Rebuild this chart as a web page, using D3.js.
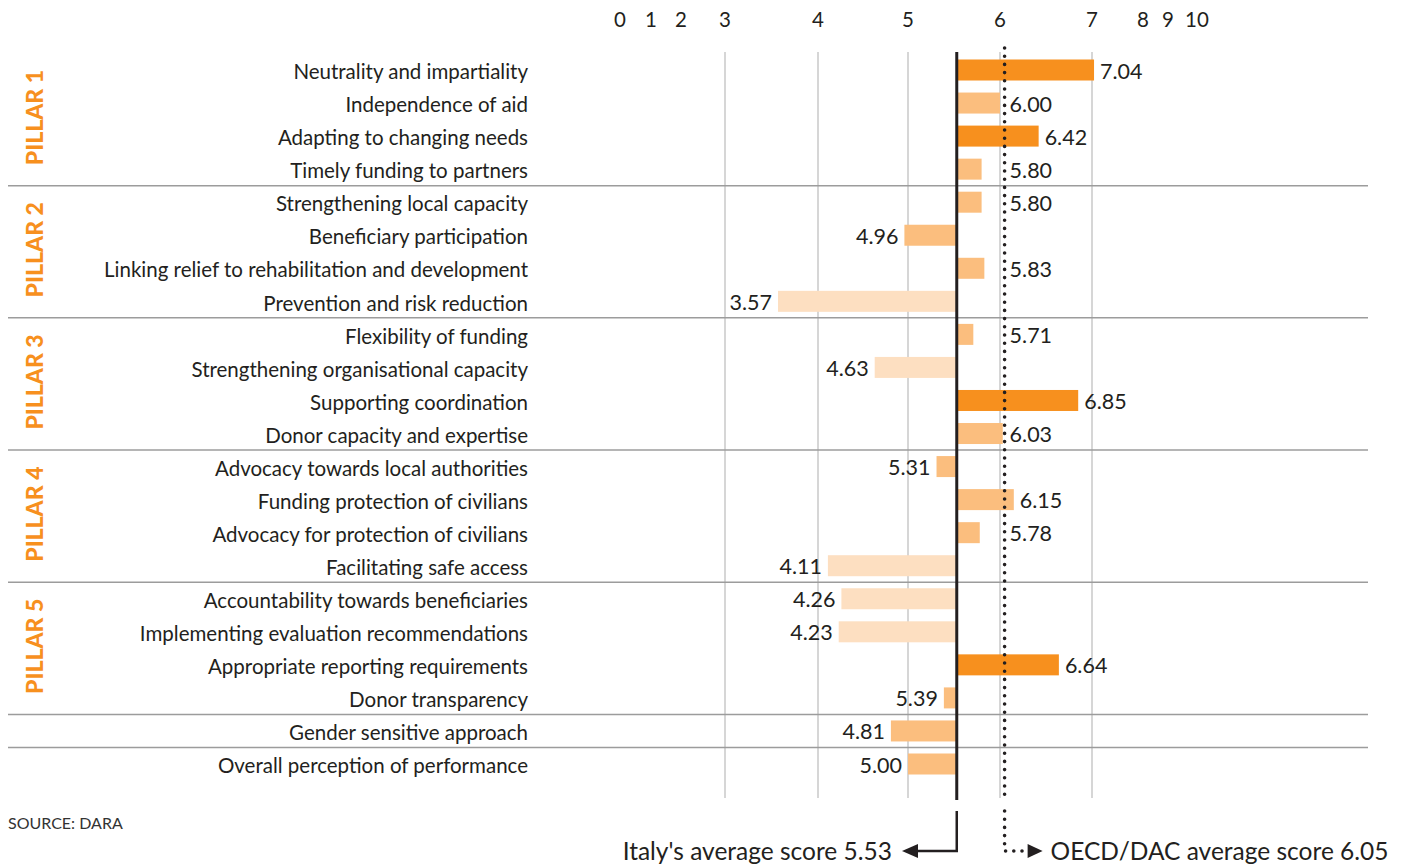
<!DOCTYPE html>
<html>
<head>
<meta charset="utf-8">
<script src="https://cdn.jsdelivr.net/npm/d3@7"></script>
<style>
	body { margin: 0; background: #fff; }
	svg text { font-family: Lato, "Noto Sans", sans-serif; fill: #231f20; }
</style>
</head>
<body>
<div id="chart"></div>
<script>
// Italy - scores by indicator vs averages

var categories = [
	"Neutrality and impartiality",
	"Independence of aid",
	"Adapting to changing needs",
	"Timely funding to partners",
	"Strengthening local capacity",
	"Beneficiary participation",
	"Linking relief to rehabilitation and development",
	"Prevention and risk reduction",
	"Flexibility of funding",
	"Strengthening organisational capacity",
	"Supporting coordination",
	"Donor capacity and expertise",
	"Advocacy towards local authorities",
	"Funding protection of civilians",
	"Advocacy for protection of civilians",
	"Facilitating safe access",
	"Accountability towards beneficiaries",
	"Implementing evaluation recommendations",
	"Appropriate reporting requirements",
	"Donor transparency",
	"Gender sensitive approach",
	"Overall perception of performance"
];

var scores = [7.04, 6.00, 6.42, 5.80, 5.80, 4.96, 5.83, 3.57, 5.71, 4.63, 6.85,
	6.03, 5.31, 6.15, 5.78, 4.11, 4.26, 4.23, 6.64, 5.39, 4.81, 5.00];

var pillars = ["PILLAR 1", "PILLAR 2", "PILLAR 3", "PILLAR 4", "PILLAR 5"];
var pillarSizes = [4, 4, 4, 4, 4];

var tickValues = [0, 1, 2, 3, 4, 5, 6, 7, 8, 9, 10];
var gridValues = [3, 4, 5, 6, 7];

var italyAvg = 5.53;
var oecdAvg = 6.05;

// Set up canvas
var width = 1408;
var height = 864;

var svg = d3.select("#chart")
	.append("svg")
		.attr("width", width)
		.attr("height", height);

// the axis is stretched in the middle, squeezed at both ends
var x = d3.scaleLinear()
	.domain(tickValues)
	.range([620, 651, 681, 725, 818, 908, 1000, 1092, 1143, 1168, 1197]);

var y = d3.scalePoint()
	.domain(categories)
	.range([70, 764]);

var barH = 21;
var gridTop = 52, gridBottom = 798;

function barColor(v) {
	if (v > 6.3) return "#f7901e";
	if (v < 4.7) return "#fddfc1";
	return "#fbbe7e";
}

// top tick labels
svg.append("g")
	.selectAll("text")
	.data(tickValues)
	.enter().append("text")
		.attr("x", function(d) { return x(d); })
		.attr("y", 20)
		.attr("dy", "0.35em")
		.attr("text-anchor", "middle")
		.attr("font-size", 20.5)
		.text(function(d) { return d; });

// vertical grid
svg.append("g")
	.selectAll("line")
	.data(gridValues)
	.enter().append("line")
		.attr("x1", function(d) { return x(d); })
		.attr("x2", function(d) { return x(d); })
		.attr("y1", gridTop)
		.attr("y2", gridBottom)
		.attr("stroke", "#c8c8c8")
		.attr("stroke-width", 1.5);

// horizontal separators between groups
var sepAfter = [];
var acc = 0;
pillarSizes.forEach(function(n) { acc += n; sepAfter.push(acc - 1); });
sepAfter.push(acc);

svg.append("g")
	.selectAll("line")
	.data(sepAfter)
	.enter().append("line")
		.attr("x1", 8)
		.attr("x2", 1368)
		.attr("y1", function(i) { return (y(categories[i]) + y(categories[i + 1])) / 2; })
		.attr("y2", function(i) { return (y(categories[i]) + y(categories[i + 1])) / 2; })
		.attr("stroke", "#9c9c9c")
		.attr("stroke-width", 1.5);

// pillar labels
var start = 0;
var pillarData = pillars.map(function(p, k) {
	var first = start, last = start + pillarSizes[k] - 1;
	start += pillarSizes[k];
	return { name: p, mid: (y(categories[first]) + y(categories[last])) / 2 };
});

svg.append("g")
	.selectAll("text")
	.data(pillarData)
	.enter().append("text")
		.attr("transform", function(d) { return "translate(35," + (d.mid - 2) + ") rotate(-90)"; })
		.attr("dy", "0.35em")
		.attr("text-anchor", "middle")
		.attr("font-size", 23)
		.attr("font-weight", 900)
		.style("fill", "#f7901e")
		.text(function(d) { return d.name; });

// category labels
svg.append("g")
	.selectAll("text")
	.data(categories)
	.enter().append("text")
		.attr("x", 528)
		.attr("y", function(d) { return y(d) + 2; })
		.attr("dy", "0.35em")
		.attr("text-anchor", "end")
		.attr("font-size", 20.5)
		.text(function(d) { return d; });

// bars from Italy's average
var rows = categories.map(function(c, i) { return { cat: c, v: scores[i] }; });
var x0 = x(italyAvg);

svg.append("g")
	.selectAll("rect")
	.data(rows)
	.enter().append("rect")
		.attr("x", function(d) { return d.v >= italyAvg ? x0 : x(d.v); })
		.attr("y", function(d) { return y(d.cat) - barH / 2; })
		.attr("width", function(d) { return Math.abs(x(d.v) - x0); })
		.attr("height", barH)
		.attr("fill", function(d) { return barColor(d.v); });

// value labels
var xo = x(oecdAvg);

svg.append("g")
	.selectAll("text")
	.data(rows)
	.enter().append("text")
		.attr("x", function(d) {
			if (d.v < italyAvg) return x(d.v) - 6;
			if (x(d.v) < xo + 2) return xo + 5;
			return x(d.v) + 6;
		})
		.attr("y", function(d) { return y(d.cat) + 1; })
		.attr("dy", "0.35em")
		.attr("text-anchor", function(d) { return d.v < italyAvg ? "end" : "start"; })
		.attr("font-size", 21.5)
		.text(function(d) { return d.v.toFixed(2); });

// Italy average line + pointer
svg.append("line")
	.attr("x1", x0).attr("x2", x0)
	.attr("y1", gridTop).attr("y2", gridBottom + 2)
	.attr("stroke", "#231f20")
	.attr("stroke-width", 3);

svg.append("path")
	.attr("d", "M" + x0 + ",811 V851 H912")
	.attr("fill", "none")
	.attr("stroke", "#231f20")
	.attr("stroke-width", 2.5);

svg.append("path")
	.attr("d", "M902,851 L918,844 L918,858 Z")
	.attr("fill", "#231f20");

svg.append("text")
	.attr("x", 892)
	.attr("y", 851)
	.attr("dy", "0.35em")
	.attr("text-anchor", "end")
	.attr("font-size", 24.5)
	.text("Italy's average score " + italyAvg.toFixed(2));

// OECD/DAC average dotted line + pointer
var dots = svg.append("g")
	.attr("fill", "none")
	.attr("stroke", "#231f20")
	.attr("stroke-width", 3.6)
	.attr("stroke-linecap", "round")
	.attr("stroke-dasharray", "0,8.2");

dots.append("line")
	.attr("x1", xo).attr("x2", xo)
	.attr("y1", 48).attr("y2", 797);

dots.append("path")
	.attr("d", "M" + xo + ",811 V851 H" + (xo + 20));

svg.append("path")
	.attr("d", "M" + (xo + 23) + ",844 L" + (xo + 38) + ",851 L" + (xo + 23) + ",858 Z")
	.attr("fill", "#231f20");

svg.append("text")
	.attr("x", xo + 46)
	.attr("y", 851)
	.attr("dy", "0.35em")
	.attr("font-size", 24.5)
	.text("OECD/DAC average score " + oecdAvg.toFixed(2));

// source
svg.append("text")
	.attr("x", 8)
	.attr("y", 823)
	.attr("dy", "0.35em")
	.attr("font-size", 16)
	.style("fill", "#333")
	.text("SOURCE: DARA");

</script>
</body>
</html>
